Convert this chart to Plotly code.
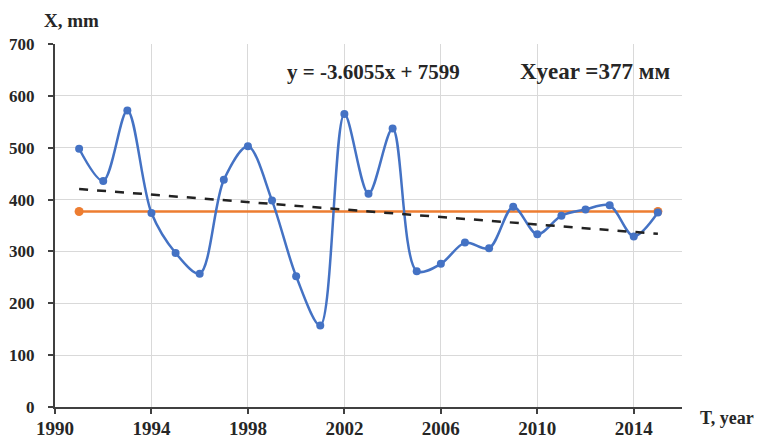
import plotly.graph_objects as go

years = list(range(1991, 2016))
precip = [498, 436, 572, 374, 297, 257, 438, 503, 398, 252, 157, 565, 411, 537,
          262, 276, 317, 306, 386, 333, 369, 381, 389, 329, 375]
mean_years = [1991, 2015]
mean_vals = [377, 377]
trend_years = [1991, 2015]
trend_vals = [420.4, 333.9]
x_ticks = [1990, 1994, 1998, 2002, 2006, 2010, 2014]
y_ticks = [0, 100, 200, 300, 400, 500, 600, 700]

BLUE = "#4472C4"
ORANGE = "#ED7D31"
FONT = "Liberation Serif"
TXT = "#262626"

fig = go.Figure()
fig.add_trace(go.Scatter(x=mean_years, y=mean_vals, mode="lines+markers",
                         line=dict(color=ORANGE, width=2.5),
                         marker=dict(color=ORANGE, size=9), showlegend=False))
fig.add_trace(go.Scatter(x=years, y=precip, mode="lines+markers",
                         line=dict(color=BLUE, width=2.5, shape="spline", smoothing=0.9),
                         marker=dict(color=BLUE, size=8), showlegend=False))
fig.add_trace(go.Scatter(x=trend_years, y=trend_vals, mode="lines",
                         line=dict(color="#222222", width=2.5, dash="dash"),
                         showlegend=False))

# page body has an 8px default margin, so the figure is sized/offset to compensate
fig.update_layout(
    width=754, height=432,
    margin=dict(l=47, r=80, t=36, b=33),
    paper_bgcolor="white", plot_bgcolor="white",
    font=dict(family=FONT, color=TXT),
    xaxis=dict(range=[1990, 2016], tickvals=x_ticks, showgrid=True,
               gridcolor="#d9d9d9", gridwidth=1.2, showline=True,
               linecolor="#404040", linewidth=2, ticks="outside", ticklen=5,
               tickcolor="#404040", tickwidth=1.5, zeroline=False, automargin=False,
               ticklabelstandoff=-2,
               tickfont=dict(family=FONT, size=19, color=TXT, weight="bold")),
    yaxis=dict(range=[0, 700], tickvals=y_ticks, showgrid=True,
               gridcolor="#d9d9d9", gridwidth=1.2, showline=True,
               linecolor="#404040", linewidth=2, ticks="outside", ticklen=5,
               tickcolor="#404040", tickwidth=1.5, zeroline=False, automargin=False,
               ticklabelstandoff=10,
               tickfont=dict(family=FONT, size=17, color=TXT, weight="bold")),
    annotations=[
        dict(text="<b>X, mm</b>", xref="paper", yref="paper", x=-0.021, y=1.066,
             xanchor="left", yanchor="middle", showarrow=False,
             font=dict(family=FONT, size=19, color=TXT)),
        dict(text="<b>T, year</b>", xref="paper", yref="paper", x=1.025, y=-0.03,
             xanchor="left", yanchor="middle", showarrow=False,
             font=dict(family=FONT, size=18, color=TXT)),
        dict(text="<b>y = -3.6055x + 7599</b>", xref="paper", yref="paper", x=0.367, y=0.923,
             xanchor="left", yanchor="middle", showarrow=False,
             font=dict(family=FONT, size=21, color=TXT)),
        dict(text="<b>Xyear =377 мм</b>", xref="paper", yref="paper", x=0.738, y=0.923,
             xanchor="left", yanchor="middle", showarrow=False,
             font=dict(family=FONT, size=23, color=TXT)),
    ],
)

fig.write_html("out.html")
